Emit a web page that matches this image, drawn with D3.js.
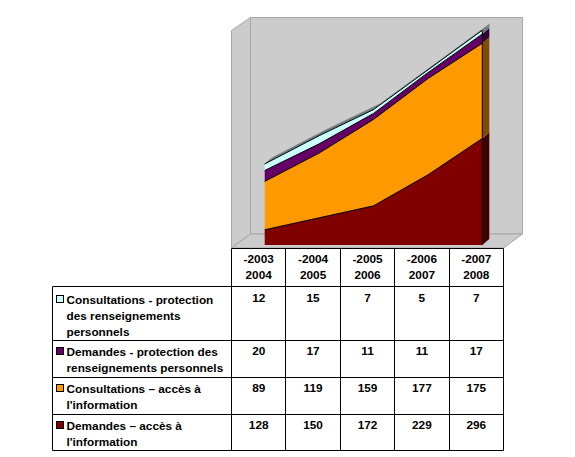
<!DOCTYPE html>
<html>
<head>
<meta charset="utf-8">
<script src="https://cdnjs.cloudflare.com/ajax/libs/d3/7.8.5/d3.min.js"></script>
<style>
html, body { margin: 0; padding: 0; background: #fff; }
svg { display: block; }
text { font-family: "Liberation Sans", Arial, sans-serif; font-size: 11.8px; font-weight: bold; fill: #000; }
</style>
</head>
<body>
<graph></graph>
<script>
var startYears = ["2003", "2004", "2005", "2006", "2007"];
var endYears = ["2004", "2005", "2006", "2007", "2008"];

// bottom layer of the stack first
var demandesAcces = [128, 150, 172, 229, 296];
var consultAcces = [89, 119, 159, 177, 175];
var demandesProt = [20, 17, 11, 11, 17];
var consultProt = [12, 15, 7, 5, 7];

var seriesNames = ["demandesAcces", "consultAcces", "demandesProt", "consultProt"];
var seriesValues = [demandesAcces, consultAcces, demandesProt, consultProt];
var seriesColors = ["#800000", "#ff9900", "#660066", "#ccffff"];
var sideColors = ["#400000", "#804d00", "#330033", "#668080"];

// table order is top layer first
var legendLines = [
	["Consultations - protection", "des renseignements", "personnels"],
	["Demandes - protection des", "renseignements personnels"],
	["Consultations \u2013 acc\u00e8s \u00e0", "l'information"],
	["Demandes \u2013 acc\u00e8s \u00e0", "l'information"]
];
// the value axis of the chart starts at 100, not 0
var axisMin = 100;
var axisMax = 500;

var w = 575, h = 457;
var depthX = 7, depthY = -6;

var svg = d3.select("graph").append("svg").attr("width", w).attr("height", h);

var x = d3.scalePoint().domain(startYears).range([264.7, 482.3]);
var y = d3.scaleLinear().domain([axisMin, axisMax]).range([245, 27.5]).clamp(true);
var col = d3.scaleBand().domain(startYears).range([231.5, 503.5]);

var table = startYears.map(function (yr, i) {
	var o = { year: yr };
	seriesNames.forEach(function (n, k) { o[n] = seriesValues[k][i]; });
	return o;
});
var stacked = d3.stack().keys(seriesNames)(table);

// walls and floor
var wallColor = "#cccccc", wallLine = "#a6a6a6";
var walls = [
	[[250.5, 17.5], [522.5, 17.5], [522.5, 234], [250.5, 234]],
	[[231.5, 30.5], [250.5, 17.5], [250.5, 234], [231.5, 248]],
	[[231.5, 248], [250.5, 234], [522.5, 234], [503.5, 248]]
];
svg.selectAll("polygon.wall")
	.data(walls)
	.enter()
	.append("polygon")
	.attr("class", "wall")
	.attr("points", function (d) { return d.join(" "); })
	.style("fill", wallColor)
	.style("stroke", wallLine);

var area = d3.area()
	.x(function (d) { return x(d.data.year); })
	.y0(function (d) { return y(d[0]); })
	.y1(function (d) { return y(d[1]); });

var topLine = d3.line()
	.x(function (d) { return x(d.data.year); })
	.y(function (d) { return y(d[1]); });

// right hand side faces
var last = startYears[startYears.length - 1];
svg.selectAll("polygon.side")
	.data(stacked)
	.enter()
	.append("polygon")
	.attr("class", "side")
	.attr("points", function (s) {
		var d = s[s.length - 1], px = x(last), y1 = y(d[1]), y0 = y(d[0]);
		return [[px, y0], [px, y1], [px + depthX, y1 + depthY], [px + depthX, y0 + depthY]].join(" ");
	})
	.style("fill", function (s, i) { return sideColors[i]; });

// top face of the whole stack
var topSeries = stacked[stacked.length - 1];
var backLine = topSeries.map(function (d) { return [x(d.data.year) + depthX, y(d[1]) + depthY]; });
var frontLine = topSeries.map(function (d) { return [x(d.data.year), y(d[1])]; });
svg.append("polygon")
	.attr("points", frontLine.concat(backLine.reverse()).join(" "))
	.style("fill", "#668080")
	.style("stroke", "#808080")
	.style("stroke-width", 0.6);

// front faces
svg.selectAll("path.layer")
	.data(stacked)
	.enter()
	.append("path")
	.attr("class", "layer")
	.attr("d", area)
	.style("fill", function (s, i) { return seriesColors[i]; });

svg.selectAll("path.edge")
	.data(stacked)
	.enter()
	.append("path")
	.attr("class", "edge")
	.attr("d", topLine)
	.style("fill", "none")
	.style("stroke", "#000")
	.style("stroke-width", 1);

svg.append("line")
	.attr("x1", x(last)).attr("x2", x(last))
	.attr("y1", y(topSeries[topSeries.length - 1][1])).attr("y2", y(axisMin))
	.style("stroke", "#000");

// table grid
var rowTops = [286.5, 340.5, 377.5, 414.5, 450.5];
var labelBase = [303.5, 355.5, 392.5, 429.5];
var valueBase = [302, 355, 392, 429];
var headTop = 248.5, tableLeft = 52.5, colLeft = 231.5, colRight = 503.5;

function rule(x1, y1, x2, y2) {
	svg.append("line")
		.attr("x1", x1).attr("y1", y1).attr("x2", x2).attr("y2", y2)
		.style("stroke", "#000").style("stroke-width", 1);
}
rule(colLeft, headTop, colRight, headTop);
rowTops.forEach(function (r) { rule(tableLeft, r, colRight, r); });
rule(tableLeft, rowTops[0], tableLeft, rowTops[4]);
startYears.forEach(function (yr) {
	var cx = Math.floor(col(yr)) + 0.5;
	rule(cx, headTop, cx, rowTops[4]);
});
rule(colRight, headTop, colRight, rowTops[4]);

// header
svg.selectAll("text.start")
	.data(startYears)
	.enter()
	.append("text")
	.attr("class", "start")
	.attr("text-anchor", "middle")
	.attr("x", function (d) { return col(d) + col.bandwidth() / 2; })
	.attr("y", 263)
	.text(function (d) { return "-" + d; });

svg.selectAll("text.end")
	.data(endYears)
	.enter()
	.append("text")
	.attr("class", "end")
	.attr("text-anchor", "middle")
	.attr("x", function (d, i) { return col(startYears[i]) + col.bandwidth() / 2; })
	.attr("y", 279)
	.text(function (d) { return d; });

// body rows, top layer first
legendLines.forEach(function (lines, r) {
	var k = seriesValues.length - 1 - r;
	svg.append("rect")
		.attr("x", 56.5).attr("y", labelBase[r] - 8)
		.attr("width", 7).attr("height", 7)
		.style("fill", seriesColors[k])
		.style("stroke", "#000");

	svg.selectAll("text.label" + r)
		.data(lines)
		.enter()
		.append("text")
		.attr("class", "label" + r)
		.attr("x", 66.5)
		.attr("y", function (d, i) { return labelBase[r] + i * 16; })
		.text(function (d) { return d; });

	svg.selectAll("text.val" + r)
		.data(seriesValues[k])
		.enter()
		.append("text")
		.attr("class", "val" + r)
		.attr("text-anchor", "middle")
		.attr("x", function (d, i) { return col(startYears[i]) + col.bandwidth() / 2; })
		.attr("y", valueBase[r])
		.text(function (d) { return d; });
});
</script>
</body>
</html>
